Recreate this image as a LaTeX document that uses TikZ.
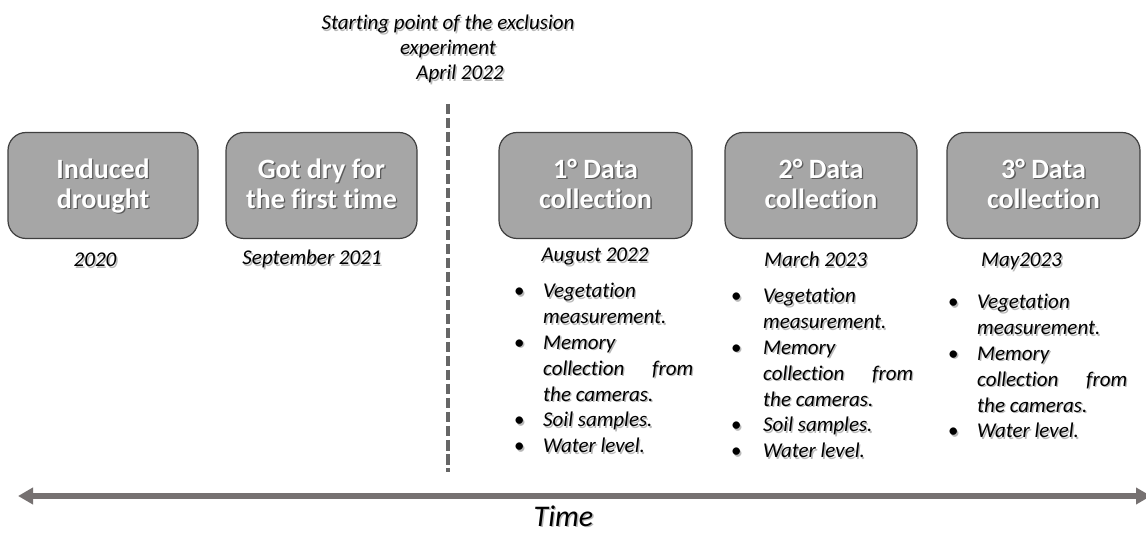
\documentclass[tikz,border=0pt]{standalone}
\usepackage{fontspec}
\setmainfont{Carlito}[Ligatures=NoCommon]
\usepackage{array}
\usetikzlibrary{arrows.meta}

\definecolor{stagefill}{HTML}{A6A6A6}
\definecolor{stageedge}{HTML}{3F3F3F}
\definecolor{timegray}{HTML}{767171}
\definecolor{splitgray}{HTML}{666666}

% upright bullet inside italic lists
\newcommand\bulletsym{{\upshape\textbullet}}
% a justified line: first word left, last word right
\newcommand\spreadline[2]{\makebox[150pt][s]{#1\hfill #2}}
% bullet list: #1 width of the bullet column, #2 rows
\newcommand\tasklist[2]{{\renewcommand\arraystretch{1}%
  \begin{tabular}[t]{@{}p{#1}@{}l@{}}#2\end{tabular}}}
% two centred lines, baseline on the last one
\newcommand\twolines[2]{\begin{tabular}[b]{@{}c@{}}#1\\#2\end{tabular}}
% a text node with a soft grey drop shadow: style, name, position, text
\newcommand\shadednode[4]{%
  \node[#1, text=black!28] (#2-shade) at ([shift={(1.4,1.4)}]#3) {#4};
  \node[#1] (#2) at (#3) {#4};}

\begin{document}
\begin{tikzpicture}[x=1pt,y=-1pt,
  stagebox/.style={draw=stageedge, line width=1.2pt, fill=stagefill,
    rounded corners=18pt, minimum height=106pt, inner sep=0pt},
  stagelabel/.style={anchor=base, inner sep=0pt, text=white,
    font=\bfseries\fontsize{28}{30}\selectfont},
  stageshade/.style={stagelabel, text=black, opacity=.45},
  datelabel/.style={anchor=base, inner sep=0pt,
    font=\itshape\fontsize{21}{25}\selectfont},
  tasks/.style={anchor=base west, inner sep=0pt,
    font=\itshape\fontsize{21}{25.8}\selectfont},
  splitline/.style={splitgray, line width=3.2pt, dash pattern=on 10.5pt off 3.5pt},
  timeaxis/.style={timegray, line width=5.5pt,
    {Triangle[length=15pt,width=16pt]}-{Triangle[length=15pt,width=16pt]}},
]
\fill[white] (0,0) rectangle (1146,534);
\useasboundingbox (0,0) rectangle (1146,534);

% stage boxes with shaded white titles
\foreach \n/\cx/\w/\la/\lb in {
    s1/103/190/Induced/drought,
    s2/321.5/191/Got dry for/the first time,
    s3/595.5/193/1° Data/collection,
    s4/821/192/2° Data/collection,
    s5/1043.5/193/3° Data/collection} {
  \node[stagebox, minimum width=\w pt] (\n) at (\cx,185.5) {};
  \coordinate (\n-base) at (\cx,208.5);
  \node[stageshade] (\n-shade) at ([shift={(1.3,1.3)}]\n-base) {\twolines{\la}{\lb}};
  \node[stagelabel] (\n-title) at (\n-base) {\twolines{\la}{\lb}};
}

% dates below the boxes
\shadednode{datelabel}{d1}{95,267}{2020}
\shadednode{datelabel}{d2}{312,265}{September 2021}
\shadednode{datelabel}{d3}{595,262}{August 2022}
\shadednode{datelabel}{d4}{815.5,267}{March 2023}
\shadednode{datelabel}{d5}{1021.5,267}{May2023}

% start of the exclusion experiment
\shadednode{datelabel}{start}{448,30}{\begin{tabular}[t]{@{}c@{}}Starting point of the exclusion\\experiment\\April 2022\hspace*{-24pt}\end{tabular}}
\coordinate (cutTop) at (448,104);
\coordinate (cutBot) at (448,472);
\draw[splitline] (cutTop) -- (cutBot);

% activities of each data collection
\shadednode{tasks}{t1}{514,298}{\tasklist{29pt}{%
  \bulletsym & Vegetation\\
  & measurement.\\
  \bulletsym & Memory\\
  & \spreadline{collection}{from}\\
  & the cameras.\\
  \bulletsym & Soil samples.\\
  \bulletsym & Water level.}}
\shadednode{tasks}{t2}{731,303}{\tasklist{32pt}{%
  \bulletsym & Vegetation\\
  & measurement.\\
  \bulletsym & Memory\\
  & \spreadline{collection}{from}\\
  & the cameras.\\
  \bulletsym & Soil samples.\\
  \bulletsym & Water level.}}
\shadednode{tasks}{t3}{948,309}{\tasklist{29pt}{%
  \bulletsym & Vegetation\\
  & measurement.\\
  \bulletsym & Memory\\
  & \spreadline{collection}{from}\\
  & the cameras.\\
  \bulletsym & Water level.}}

% time axis
\coordinate (tL) at (18,496);
\coordinate (tR) at (1151,496);
\draw[timeaxis] (tL) -- (tR);
\shadednode{anchor=base, inner sep=0pt, font=\itshape\fontsize{30}{36}\selectfont}{time}{563.5,526}{Time}
\end{tikzpicture}
\end{document}
